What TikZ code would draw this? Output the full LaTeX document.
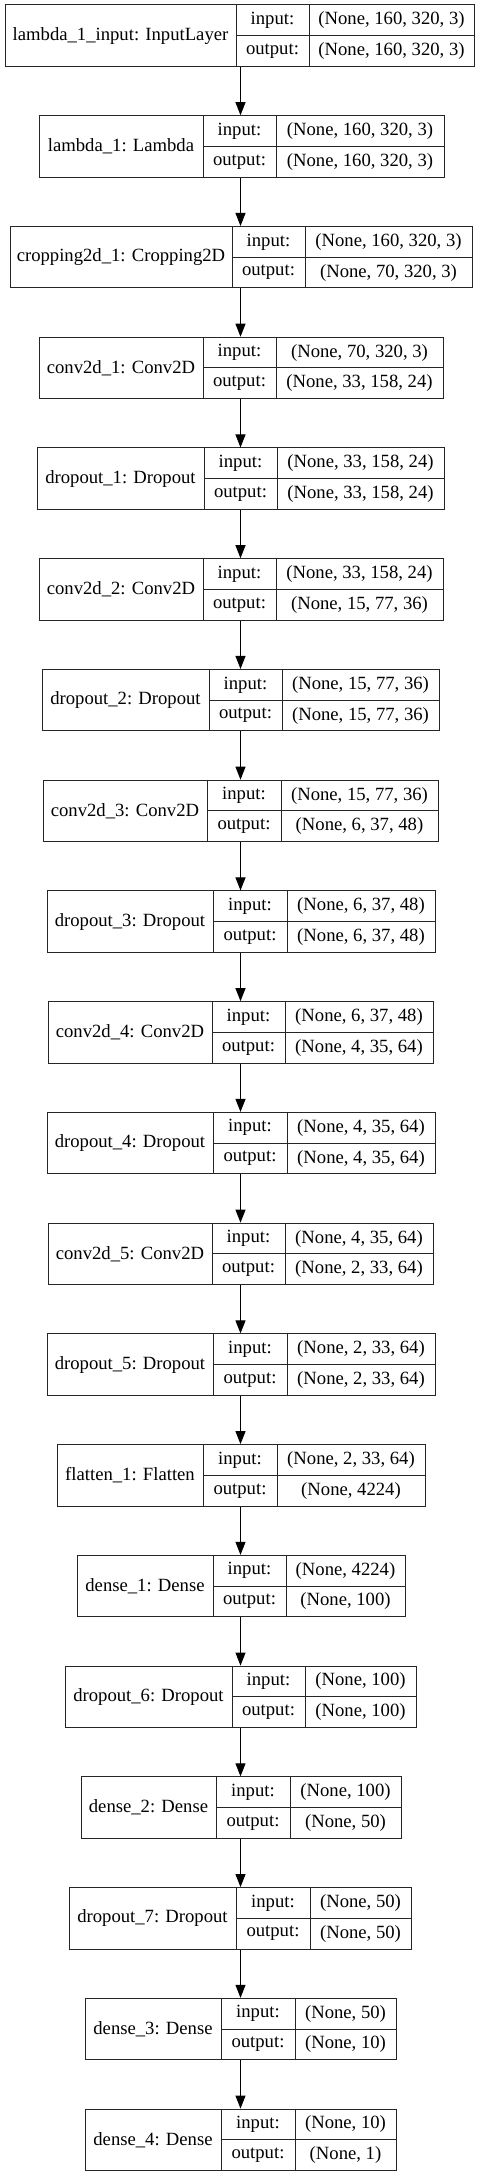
\documentclass[tikz,border=0pt]{standalone}
\usepackage{fontspec}
\setmainfont{Liberation Serif}
\usetikzlibrary{arrows.meta}

\tikzset{
  cell/.style={draw=black!85, line width=0.75pt, inner sep=0pt,
    font=\fontsize{14}{16}\selectfont},
  flow/.style={-{Triangle[length=9.75pt,width=7.5pt]}, line width=0.75pt},
}

% #1 name, #2 row, #3 left, #4 first split, #5 second split, #6 right,
% #7 layer text, #8 input shape, #9 output shape
\newcommand{\layer}[9]{%
  \pgfmathsetmacro{\ytop}{5+(#2-1)*110.74}%
  \pgfmathsetmacro{\wa}{(#4-#3)*0.75}%
  \pgfmathsetmacro{\wb}{(#5-#4)*0.75}%
  \pgfmathsetmacro{\wc}{(#6-#5)*0.75}%
  \node[cell, minimum width=\wa pt, minimum height=46.125pt] (#1)
    at ({(#3+#4)/2},{\ytop+30.75}) {#7};
  \node[cell, minimum width=\wb pt, minimum height=23.0625pt] (#1-in)
    at ({(#4+#5)/2},{\ytop+15.375}) {input:};
  \node[cell, minimum width=\wb pt, minimum height=23.0625pt] (#1-out)
    at ({(#4+#5)/2},{\ytop+46.125}) {output:};
  \node[cell, minimum width=\wc pt, minimum height=23.0625pt] (#1-inshape)
    at ({(#5+#6)/2},{\ytop+15.375}) {#8};
  \node[cell, minimum width=\wc pt, minimum height=23.0625pt] (#1-outshape)
    at ({(#5+#6)/2},{\ytop+46.125}) {#9};
}

\begin{document}
\begin{tikzpicture}[x=0.75pt,y=-0.75pt]
  \path[use as bounding box, fill=white] (0,0) rectangle (481,2176);
  \coordinate (axis) at (240.5,0);

  % layers, top to bottom
  \layer{inlayer}{1}{5}{236}{309}{474}{lambda\_1\_input: InputLayer}{(None, 160, 320, 3)}{(None, 160, 320, 3)}
  \layer{lambda}{2}{39}{203}{276}{444}{lambda\_1: Lambda}{(None, 160, 320, 3)}{(None, 160, 320, 3)}
  \layer{crop}{3}{10}{232}{305}{472}{cropping2d\_1: Cropping2D}{(None, 160, 320, 3)}{(None, 70, 320, 3)}
  \layer{conv1}{4}{39}{203}{276}{443}{conv2d\_1: Conv2D}{(None, 70, 320, 3)}{(None, 33, 158, 24)}
  \layer{drop1}{5}{37}{204}{277}{444}{dropout\_1: Dropout}{(None, 33, 158, 24)}{(None, 33, 158, 24)}
  \layer{conv2}{6}{39}{203}{276}{443}{conv2d\_2: Conv2D}{(None, 33, 158, 24)}{(None, 15, 77, 36)}
  \layer{drop2}{7}{42}{209}{282}{439}{dropout\_2: Dropout}{(None, 15, 77, 36)}{(None, 15, 77, 36)}
  \layer{conv3}{8}{43}{207}{281}{438}{conv2d\_3: Conv2D}{(None, 15, 77, 36)}{(None, 6, 37, 48)}
  \layer{drop3}{9}{47}{213}{287}{435}{dropout\_3: Dropout}{(None, 6, 37, 48)}{(None, 6, 37, 48)}
  \layer{conv4}{10}{48}{212}{285}{433}{conv2d\_4: Conv2D}{(None, 6, 37, 48)}{(None, 4, 35, 64)}
  \layer{drop4}{11}{47}{213}{287}{435}{dropout\_4: Dropout}{(None, 4, 35, 64)}{(None, 4, 35, 64)}
  \layer{conv5}{12}{48}{212}{285}{433}{conv2d\_5: Conv2D}{(None, 4, 35, 64)}{(None, 2, 33, 64)}
  \layer{drop5}{13}{47}{213}{287}{435}{dropout\_5: Dropout}{(None, 2, 33, 64)}{(None, 2, 33, 64)}
  \layer{flat}{14}{57}{203}{277}{425}{flatten\_1: Flatten}{(None, 2, 33, 64)}{(None, 4224)}
  \layer{dense1}{15}{77}{213}{286}{405}{dense\_1: Dense}{(None, 4224)}{(None, 100)}
  \layer{drop6}{16}{65}{232}{305}{416}{dropout\_6: Dropout}{(None, 100)}{(None, 100)}
  \layer{dense2}{17}{81}{216}{290}{401}{dense\_2: Dense}{(None, 100)}{(None, 50)}
  \layer{drop7}{18}{69}{236}{310}{411}{dropout\_7: Dropout}{(None, 50)}{(None, 50)}
  \layer{dense3}{19}{85}{221}{295}{396}{dense\_3: Dense}{(None, 50)}{(None, 10)}
  \layer{dense4}{20}{85}{221}{295}{396}{dense\_4: Dense}{(None, 10)}{(None, 1)}

  % connections
  \foreach \a/\b in {inlayer/lambda, lambda/crop, crop/conv1, conv1/drop1,
      drop1/conv2, conv2/drop2, drop2/conv3, conv3/drop3, drop3/conv4,
      conv4/drop4, drop4/conv5, conv5/drop5, drop5/flat, flat/dense1,
      dense1/drop6, drop6/dense2, dense2/drop7, drop7/dense3, dense3/dense4}
    \draw[flow] (\a-out.south -| axis) -- (\b-in.north -| axis);
\end{tikzpicture}
\end{document}
